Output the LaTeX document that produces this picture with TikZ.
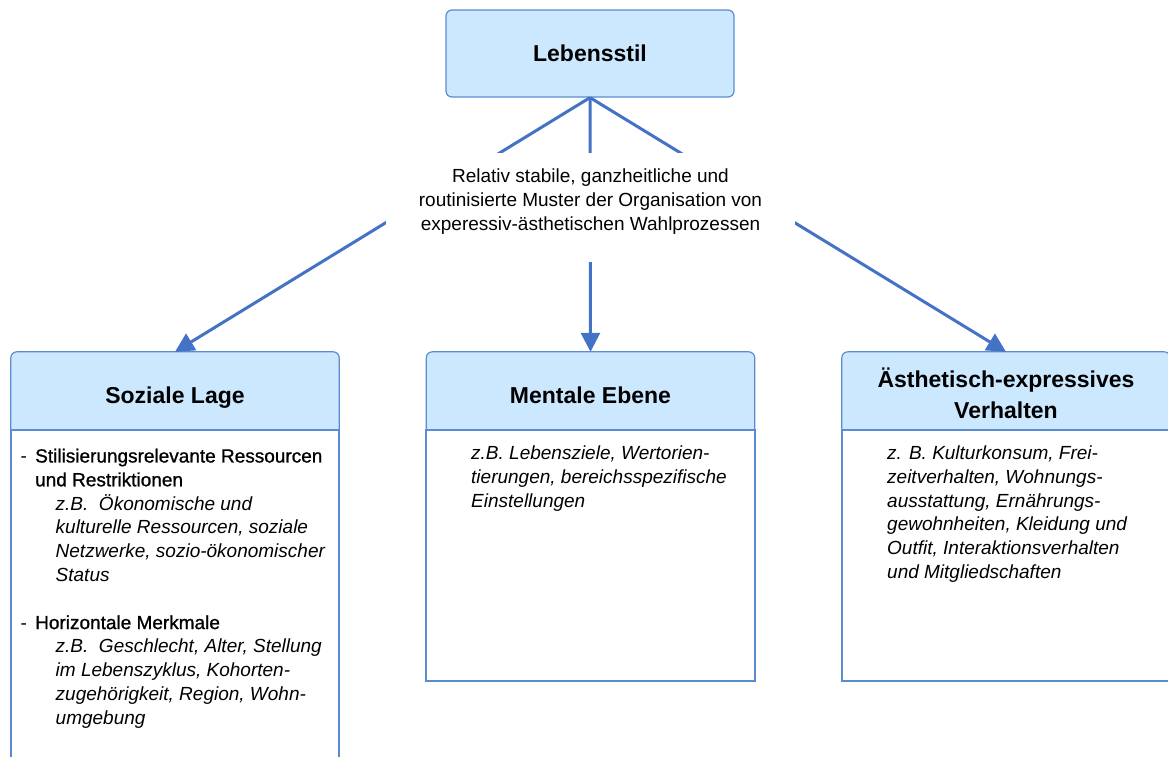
\documentclass[tikz,border=0pt]{standalone}
\usepackage{fontspec}
\setmainfont{Liberation Sans}
\newfontfamily\medfont[FakeBold=1]{Liberation Sans}
\usetikzlibrary{arrows.meta, backgrounds}
\definecolor{hdrblue}{HTML}{CCE8FF}
\definecolor{lineblue}{HTML}{5B8BD1}
\definecolor{arrowblue}{HTML}{4472C4}

\begin{document}
\begin{tikzpicture}[x=1pt, y=-1pt,
    hdr/.style={minimum width=328pt, minimum height=78pt, inner sep=0pt, align=center, text depth=0pt, font=\fontsize{23}{31}\selectfont\bfseries},
    body/.style={rectangle, draw=lineblue, line width=1.2pt, fill=white},
    item/.style={anchor=north west, inner sep=0pt, align=left, font=\fontsize{19}{23.8}\selectfont},
    note/.style={item, font=\fontsize{19}{23.8}\selectfont\itshape},
    arr/.style={-{Triangle[length=19pt, width=19pt]}, line width=3pt, arrowblue}]
    \useasboundingbox (0,0) rectangle (1168,756);

    \node[hdr, draw=lineblue, line width=1.2pt, fill=hdrblue, rounded corners=6pt, minimum width=288pt, minimum height=87pt, text height=16.5pt] (lebensstil) at (590,53.5) {Lebensstil};

    \node[body, minimum width=328pt, minimum height=340pt] (sozialebody) at (175,600) {};
    \node[body, minimum width=329pt, minimum height=251pt] (mentalebody) at (590.5,555.5) {};
    \node[body, minimum width=328pt, minimum height=251pt] (aesthetikbody) at (1006,555.5) {};

    \node[hdr, text height=24pt] (soziale) at (175,391) {Soziale Lage};
    \node[hdr, text height=24pt] (mentale) at (590.5,391) {Mentale Ebene};
    \node[hdr, text height=54pt] (aesthetik) at (1006,391) {Ästhetisch-expressives\\Verhalten};

    \begin{scope}[on background layer]
        \foreach \n in {soziale, mentale, aesthetik}
            \draw[draw=lineblue, line width=1.2pt, fill=hdrblue] (\n.south west) -- ([yshift=-6pt]\n.north west) arc[start angle=180, end angle=90, radius=6pt] -- ([xshift=-6pt]\n.north east) arc[start angle=90, end angle=0, radius=6pt] -- (\n.south east) -- cycle;
    \end{scope}

    \draw[arr] (lebensstil.south) -- (soziale.north);
    \draw[arr] (lebensstil.south) -- (mentale.north);
    \draw[arr] (lebensstil.south) -- (aesthetik.north);

    \node[fill=white, minimum width=409pt, minimum height=109pt, inner sep=0pt, align=center, text depth=16pt, font=\fontsize{19}{23.7}\selectfont] (muster) at (590.5,207.5) {Relativ stabile, ganzheitliche und\\routinisierte Muster der Organisation von\\experessiv-ästhetischen Wahlprozessen};

    \node[item] (sozialetext) at (20.5,448.5) {\makebox[14.5pt][l]{-}{\medfont Stilisierungsrelevante Ressourcen}\\
        \hspace*{14.5pt}{\medfont und Restriktionen}\\
        \hspace*{35pt}\textit{z.B.\ \ Ökonomische und}\\
        \hspace*{35pt}\textit{kulturelle Ressourcen, soziale}\\
        \hspace*{35pt}\textit{Netzwerke, sozio-ökonomischer}\\
        \hspace*{35pt}\textit{Status}\\
        \mbox{}\\
        \makebox[14.5pt][l]{-}{\medfont Horizontale Merkmale}\\
        \hspace*{35pt}\textit{z.B.\ \ Geschlecht, Alter, Stellung}\\
        \hspace*{35pt}\textit{im Lebenszyklus, Kohorten-}\\
        \hspace*{35pt}\textit{zugehörigkeit, Region, Wohn-}\\
        \hspace*{35pt}\textit{umgebung}};
    \node[note] (mentaletext) at (471,445.5) {z.B. Lebensziele, Wertorien-\\tierungen, bereichsspezifische\\Einstellungen};
    \node[note] (aesthetiktext) at (887,445.5) {z. B. Kulturkonsum, Frei-\\zeitverhalten, Wohnungs-\\ausstattung, Ernährungs-\\gewohnheiten, Kleidung und\\Outfit, Interaktionsverhalten\\und Mitgliedschaften};
\end{tikzpicture}
\end{document}
